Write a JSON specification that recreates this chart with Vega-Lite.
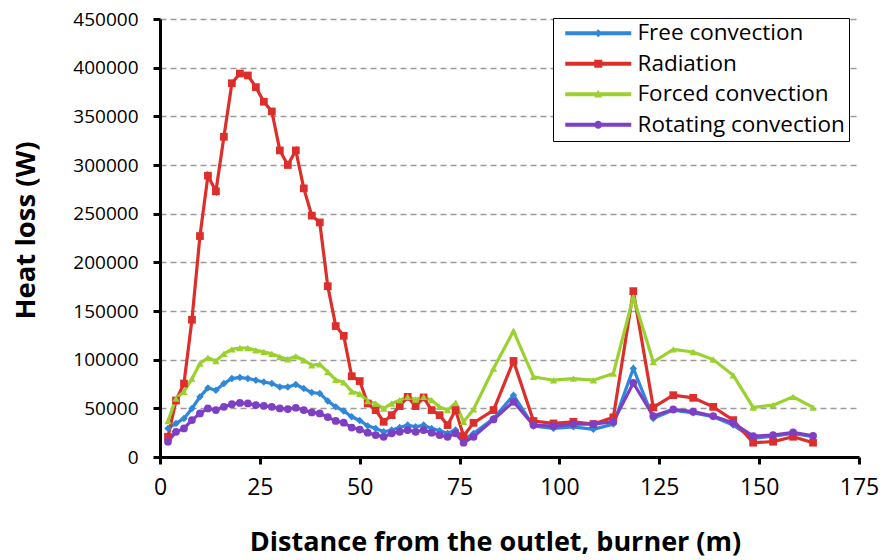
{
  "$schema": "https://vega.github.io/schema/vega-lite/v6.json",
  "width": 699,
  "height": 438,
  "autosize": {"type": "none"},
  "padding": {"left": 160, "top": 19, "right": 23, "bottom": 103},
  "background": "white",
  "config": {
    "view": {"stroke": null},
    "font": "Open Sans",
    "axis": {"labelFont": "Open Sans", "titleFont": "Open Sans", "labelColor": "black", "titleColor": "black"}
  },
  "data": {"values": [
    {"x":2,"s":"Free convection","y":29400},{"x":4,"s":"Free convection","y":34500},{"x":6,"s":"Free convection","y":39600},{"x":8,"s":"Free convection","y":49900},{"x":10,"s":"Free convection","y":61800},{"x":12,"s":"Free convection","y":71000},{"x":14,"s":"Free convection","y":68600},{"x":16,"s":"Free convection","y":75500},{"x":18,"s":"Free convection","y":80600},{"x":20,"s":"Free convection","y":81700},{"x":22,"s":"Free convection","y":80600},{"x":24,"s":"Free convection","y":78900},{"x":26,"s":"Free convection","y":77100},{"x":28,"s":"Free convection","y":75500},{"x":30,"s":"Free convection","y":72000},{"x":32,"s":"Free convection","y":72000},{"x":34,"s":"Free convection","y":74500},{"x":36,"s":"Free convection","y":70400},{"x":38,"s":"Free convection","y":66300},{"x":40,"s":"Free convection","y":65300},{"x":42,"s":"Free convection","y":57500},{"x":44,"s":"Free convection","y":51500},{"x":46,"s":"Free convection","y":47300},{"x":48,"s":"Free convection","y":41300},{"x":50,"s":"Free convection","y":37500},{"x":52,"s":"Free convection","y":32000},{"x":54,"s":"Free convection","y":29400},{"x":56,"s":"Free convection","y":25900},{"x":58,"s":"Free convection","y":27700},{"x":60,"s":"Free convection","y":30400},{"x":62,"s":"Free convection","y":32800},{"x":64,"s":"Free convection","y":31000},{"x":66,"s":"Free convection","y":32800},{"x":68,"s":"Free convection","y":29400},{"x":70,"s":"Free convection","y":27000},{"x":72,"s":"Free convection","y":24300},{"x":74,"s":"Free convection","y":27700},{"x":76,"s":"Free convection","y":17400},{"x":78.5,"s":"Free convection","y":24300},{"x":83.5,"s":"Free convection","y":39600},{"x":88.5,"s":"Free convection","y":63500},{"x":93.5,"s":"Free convection","y":31800},{"x":98.5,"s":"Free convection","y":29400},{"x":103.5,"s":"Free convection","y":31000},{"x":108.5,"s":"Free convection","y":28400},{"x":113.5,"s":"Free convection","y":33800},{"x":118.5,"s":"Free convection","y":90900},{"x":123.5,"s":"Free convection","y":39600},{"x":128.5,"s":"Free convection","y":48200},{"x":133.5,"s":"Free convection","y":45400},{"x":138.5,"s":"Free convection","y":41300},{"x":143.5,"s":"Free convection","y":32800},{"x":148.5,"s":"Free convection","y":19200},{"x":153.5,"s":"Free convection","y":21500},{"x":158.5,"s":"Free convection","y":24300},{"x":163.5,"s":"Free convection","y":20800},
    {"x":2,"s":"Radiation","y":20800},{"x":4,"s":"Radiation","y":58000},{"x":6,"s":"Radiation","y":75500},{"x":8,"s":"Radiation","y":141000},{"x":10,"s":"Radiation","y":227000},{"x":12,"s":"Radiation","y":289000},{"x":14,"s":"Radiation","y":273000},{"x":16,"s":"Radiation","y":329000},{"x":18,"s":"Radiation","y":384000},{"x":20,"s":"Radiation","y":394000},{"x":22,"s":"Radiation","y":392000},{"x":24,"s":"Radiation","y":380000},{"x":26,"s":"Radiation","y":365000},{"x":28,"s":"Radiation","y":355000},{"x":30,"s":"Radiation","y":315000},{"x":32,"s":"Radiation","y":300000},{"x":34,"s":"Radiation","y":315000},{"x":36,"s":"Radiation","y":276000},{"x":38,"s":"Radiation","y":248000},{"x":40,"s":"Radiation","y":241000},{"x":42,"s":"Radiation","y":175500},{"x":44,"s":"Radiation","y":134500},{"x":46,"s":"Radiation","y":124500},{"x":48,"s":"Radiation","y":83000},{"x":50,"s":"Radiation","y":78000},{"x":52,"s":"Radiation","y":55000},{"x":54,"s":"Radiation","y":48200},{"x":56,"s":"Radiation","y":36200},{"x":58,"s":"Radiation","y":43000},{"x":60,"s":"Radiation","y":52300},{"x":62,"s":"Radiation","y":61800},{"x":64,"s":"Radiation","y":52300},{"x":66,"s":"Radiation","y":61200},{"x":68,"s":"Radiation","y":48200},{"x":70,"s":"Radiation","y":43000},{"x":72,"s":"Radiation","y":32800},{"x":74,"s":"Radiation","y":48200},{"x":76,"s":"Radiation","y":21500},{"x":78.5,"s":"Radiation","y":35100},{"x":83.5,"s":"Radiation","y":48200},{"x":88.5,"s":"Radiation","y":98700},{"x":93.5,"s":"Radiation","y":37000},{"x":98.5,"s":"Radiation","y":34500},{"x":103.5,"s":"Radiation","y":36200},{"x":108.5,"s":"Radiation","y":33800},{"x":113.5,"s":"Radiation","y":40700},{"x":118.5,"s":"Radiation","y":170400},{"x":123.5,"s":"Radiation","y":50900},{"x":128.5,"s":"Radiation","y":63500},{"x":133.5,"s":"Radiation","y":60800},{"x":138.5,"s":"Radiation","y":51500},{"x":143.5,"s":"Radiation","y":37900},{"x":148.5,"s":"Radiation","y":14700},{"x":153.5,"s":"Radiation","y":15700},{"x":158.5,"s":"Radiation","y":20800},{"x":163.5,"s":"Radiation","y":14700},
    {"x":2,"s":"Forced convection","y":37000},{"x":4,"s":"Forced convection","y":60000},{"x":6,"s":"Forced convection","y":67000},{"x":8,"s":"Forced convection","y":80500},{"x":10,"s":"Forced convection","y":96000},{"x":12,"s":"Forced convection","y":102000},{"x":14,"s":"Forced convection","y":98700},{"x":16,"s":"Forced convection","y":106000},{"x":18,"s":"Forced convection","y":110600},{"x":20,"s":"Forced convection","y":112000},{"x":22,"s":"Forced convection","y":112000},{"x":24,"s":"Forced convection","y":109600},{"x":26,"s":"Forced convection","y":108000},{"x":28,"s":"Forced convection","y":106000},{"x":30,"s":"Forced convection","y":102700},{"x":32,"s":"Forced convection","y":100400},{"x":34,"s":"Forced convection","y":103500},{"x":36,"s":"Forced convection","y":99400},{"x":38,"s":"Forced convection","y":94300},{"x":40,"s":"Forced convection","y":95300},{"x":42,"s":"Forced convection","y":87400},{"x":44,"s":"Forced convection","y":79300},{"x":46,"s":"Forced convection","y":76700},{"x":48,"s":"Forced convection","y":67300},{"x":50,"s":"Forced convection","y":64900},{"x":52,"s":"Forced convection","y":57500},{"x":54,"s":"Forced convection","y":55000},{"x":56,"s":"Forced convection","y":49900},{"x":58,"s":"Forced convection","y":55000},{"x":60,"s":"Forced convection","y":58400},{"x":62,"s":"Forced convection","y":61800},{"x":64,"s":"Forced convection","y":59000},{"x":66,"s":"Forced convection","y":61800},{"x":68,"s":"Forced convection","y":58400},{"x":70,"s":"Forced convection","y":51500},{"x":72,"s":"Forced convection","y":48200},{"x":74,"s":"Forced convection","y":55600},{"x":76,"s":"Forced convection","y":36200},{"x":78.5,"s":"Forced convection","y":48900},{"x":83.5,"s":"Forced convection","y":90900},{"x":88.5,"s":"Forced convection","y":129400},{"x":93.5,"s":"Forced convection","y":82300},{"x":98.5,"s":"Forced convection","y":78900},{"x":103.5,"s":"Forced convection","y":80600},{"x":108.5,"s":"Forced convection","y":78900},{"x":113.5,"s":"Forced convection","y":85800},{"x":118.5,"s":"Forced convection","y":164200},{"x":123.5,"s":"Forced convection","y":97600},{"x":128.5,"s":"Forced convection","y":110600},{"x":133.5,"s":"Forced convection","y":107900},{"x":138.5,"s":"Forced convection","y":100100},{"x":143.5,"s":"Forced convection","y":84000},{"x":148.5,"s":"Forced convection","y":50900},{"x":153.5,"s":"Forced convection","y":53300},{"x":158.5,"s":"Forced convection","y":61800},{"x":163.5,"s":"Forced convection","y":50900},
    {"x":2,"s":"Rotating convection","y":15700},{"x":4,"s":"Rotating convection","y":25900},{"x":6,"s":"Rotating convection","y":29400},{"x":8,"s":"Rotating convection","y":37900},{"x":10,"s":"Rotating convection","y":44800},{"x":12,"s":"Rotating convection","y":49900},{"x":14,"s":"Rotating convection","y":48200},{"x":16,"s":"Rotating convection","y":51500},{"x":18,"s":"Rotating convection","y":54300},{"x":20,"s":"Rotating convection","y":55600},{"x":22,"s":"Rotating convection","y":55000},{"x":24,"s":"Rotating convection","y":53300},{"x":26,"s":"Rotating convection","y":52600},{"x":28,"s":"Rotating convection","y":51500},{"x":30,"s":"Rotating convection","y":49900},{"x":32,"s":"Rotating convection","y":49200},{"x":34,"s":"Rotating convection","y":50600},{"x":36,"s":"Rotating convection","y":48200},{"x":38,"s":"Rotating convection","y":45800},{"x":40,"s":"Rotating convection","y":44800},{"x":42,"s":"Rotating convection","y":41000},{"x":44,"s":"Rotating convection","y":37000},{"x":46,"s":"Rotating convection","y":35300},{"x":48,"s":"Rotating convection","y":30200},{"x":50,"s":"Rotating convection","y":28200},{"x":52,"s":"Rotating convection","y":25000},{"x":54,"s":"Rotating convection","y":22500},{"x":56,"s":"Rotating convection","y":20800},{"x":58,"s":"Rotating convection","y":24300},{"x":60,"s":"Rotating convection","y":25900},{"x":62,"s":"Rotating convection","y":27700},{"x":64,"s":"Rotating convection","y":25900},{"x":66,"s":"Rotating convection","y":27700},{"x":68,"s":"Rotating convection","y":25000},{"x":70,"s":"Rotating convection","y":22500},{"x":72,"s":"Rotating convection","y":20800},{"x":74,"s":"Rotating convection","y":24300},{"x":76,"s":"Rotating convection","y":14700},{"x":78.5,"s":"Rotating convection","y":20800},{"x":83.5,"s":"Rotating convection","y":38600},{"x":88.5,"s":"Rotating convection","y":56700},{"x":93.5,"s":"Rotating convection","y":32800},{"x":98.5,"s":"Rotating convection","y":31800},{"x":103.5,"s":"Rotating convection","y":33800},{"x":108.5,"s":"Rotating convection","y":33800},{"x":113.5,"s":"Rotating convection","y":36200},{"x":118.5,"s":"Rotating convection","y":76100},{"x":123.5,"s":"Rotating convection","y":42000},{"x":128.5,"s":"Rotating convection","y":48900},{"x":133.5,"s":"Rotating convection","y":46600},{"x":138.5,"s":"Rotating convection","y":42000},{"x":143.5,"s":"Rotating convection","y":35100},{"x":148.5,"s":"Rotating convection","y":21500},{"x":153.5,"s":"Rotating convection","y":22500},{"x":158.5,"s":"Rotating convection","y":25300},{"x":163.5,"s":"Rotating convection","y":21800}
  ]},
  "encoding": {
    "x": {"field": "x", "type": "quantitative",
      "scale": {"domain": [0, 175], "nice": false, "zero": false},
      "axis": {"values": [0,25,50,75,100,125,150,175], "grid": false, "labelFlush": false,
        "domainColor": "black", "domainWidth": 3, "tickColor": "black", "tickWidth": 3, "tickSize": 7,
        "labelFontSize": 23, "labelPadding": 12,
        "title": "Distance from the outlet, burner (m)", "titleFontSize": 27, "titleFontWeight": "bold",
        "titleBaseline": "alphabetic", "titleAlign": "center", "titleX": 335, "titleY": 93}},
    "y": {"field": "y", "type": "quantitative",
      "scale": {"domain": [0, 450000], "nice": false},
      "axis": {"values": [0,50000,100000,150000,200000,250000,300000,350000,400000,450000], "format": "d",
        "grid": true, "gridColor": "#9a9a9a", "gridDash": [6, 4], "gridWidth": 1.5, "labelFlush": false,
        "domainColor": "black", "domainWidth": 3, "tickColor": "black", "tickWidth": 3, "tickSize": 7,
        "labelFontSize": 19, "labelPadding": 15,
        "title": "Heat loss (W)", "titleFontSize": 27.5, "titleFontWeight": "bold",
        "titleAngle": -90, "titleBaseline": "bottom", "titleAlign": "center", "titleX": -120, "titleY": 211}}
  },
  "layer": [
    {
      "mark": {"type": "line", "strokeWidth": 3.2},
      "encoding": {
        "color": {"field": "s", "type": "nominal",
          "scale": {"domain": ["Free convection", "Radiation", "Forced convection", "Rotating convection"],
                    "range": ["#2F87DA", "#DC2F2B", "#9BD12E", "#7F3FC4"]},
          "legend": {"orient": "none", "legendX": 393, "legendY": -1, "title": null,
            "strokeColor": "black", "fillColor": "white", "padding": 4, "cornerRadius": 0,
            "labelFontSize": 22.5, "labelFont": "Open Sans", "labelColor": "black", "labelLimit": 400,
            "symbolType": "stroke", "symbolSize": 256, "symbolStrokeWidth": 0, "labelOffset": 58, "rowPadding": 7.5,
            "encode": {"symbols": {"update": {
              "shape": {"signal": "datum.value === 'Free convection' ? 'M-0.375,-0.25H7.875V0.25H-0.375Z M3.75,-0.5L4.25,0L3.75,0.5L3.25,0Z' : datum.value === 'Radiation' ? 'M-0.375,-0.25H7.875V0.25H-0.375Z M3.25,-0.5H4.25V0.5H3.25Z' : datum.value === 'Forced convection' ? 'M-0.375,-0.25H7.875V0.25H-0.375Z M3.75,-0.55L4.25,0.4L3.25,0.4Z' : 'M-0.375,-0.25H7.875V0.25H-0.375Z M3.25,0A0.5,0.5,0,1,1,4.25,0A0.5,0.5,0,1,1,3.25,0Z'"},
              "fill": {"signal": "scale('color', datum.value)"},
              "strokeWidth": {"value": 0}
            }}}}}
      }
    },
    {
      "transform": [{"filter": "datum.s === 'Free convection'"}],
      "mark": {"type": "point", "filled": true, "size": 55, "opacity": 1, "shape": "diamond", "color": "#2F87DA"}
    },
    {
      "transform": [{"filter": "datum.s === 'Radiation'"}],
      "mark": {"type": "point", "filled": true, "size": 60, "opacity": 1, "shape": "square", "color": "#DC2F2B"}
    },
    {
      "transform": [{"filter": "datum.s === 'Forced convection'"}],
      "mark": {"type": "point", "filled": true, "size": 55, "opacity": 1, "shape": "triangle-up", "color": "#9BD12E"}
    },
    {
      "transform": [{"filter": "datum.s === 'Rotating convection'"}],
      "mark": {"type": "point", "filled": true, "size": 60, "opacity": 1, "shape": "circle", "color": "#7F3FC4"}
    }
  ]
}
